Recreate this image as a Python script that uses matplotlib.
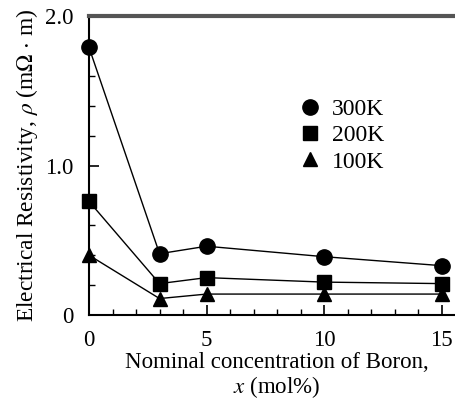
import matplotlib
matplotlib.use("Agg")
import matplotlib.pyplot as plt
from matplotlib.ticker import MultipleLocator, FixedLocator

plt.rcParams['font.family'] = ['Liberation Serif', 'DejaVu Serif']
plt.rcParams['mathtext.fontset'] = 'stix'

x = [0, 3, 5, 10, 15]
rho_300 = [1.79, 0.41, 0.46, 0.39, 0.33]
rho_200 = [0.76, 0.21, 0.25, 0.22, 0.21]
rho_100 = [0.40, 0.11, 0.14, 0.14, 0.14]
series = [("300K", rho_300, "o", 11), ("200K", rho_200, "s", 9.5), ("100K", rho_100, "^", 10.5)]

fig = plt.figure(figsize=(4.56, 4.01), dpi=100)
ax = fig.add_axes([89/456, 1-315/401, (456-89)/456 + 0.01, (315-16)/401])

for label, vals, m, ms in series:
    ax.plot(x, vals, color='black', lw=1, marker=m, ms=ms, label=label, clip_on=False, zorder=3)

ax.set_xlim(0, 15.8)
ax.set_ylim(0, 2.0)
ax.xaxis.set_major_locator(FixedLocator([0, 5, 10, 15]))
ax.xaxis.set_minor_locator(MultipleLocator(1))
ax.yaxis.set_major_locator(FixedLocator([0, 1.0, 2.0]))
ax.yaxis.set_minor_locator(MultipleLocator(0.2))
ax.set_yticklabels(["0", "1.0", "2.0"])
ax.tick_params(which='both', direction='in', labelsize=16.5, colors='black')
ax.tick_params(which='major', length=7, width=1.2)
ax.tick_params(which='minor', length=4, width=1)
ax.tick_params(axis='x', which='major', pad=11)
ax.tick_params(axis='y', which='major', pad=11)
ax.tick_params(axis='y', which='both', right=False)
ax.tick_params(axis='x', which='both', top=False)
ax.spines['right'].set_visible(False)
ax.spines['top'].set_linewidth(3)
ax.spines['top'].set_color('#555555')
ax.spines['left'].set_linewidth(1.5)
ax.spines['bottom'].set_linewidth(1.5)

ax.set_ylabel(r"Electrical Resistivity, $\rho$ (m$\Omega$ $\cdot$ m)", fontsize=16.8, labelpad=4)
ax.set_xlabel("Nominal concentration of Boron,\n" + r"$x$ (mol%)", fontsize=16.5, linespacing=1.02)
ax.xaxis.set_label_coords(0.505, -0.125, transform=ax.transAxes)
ax.xaxis.label.set_va('top')

leg = ax.legend(loc='upper left', bbox_to_anchor=(0.545, 0.755), frameon=False, fontsize=17,
                handlelength=0.8, handletextpad=0.5, labelspacing=0.2, borderaxespad=0)
for h in leg.legend_handles:
    h.set_linestyle('none')

fig.savefig("out.png", dpi=100)
